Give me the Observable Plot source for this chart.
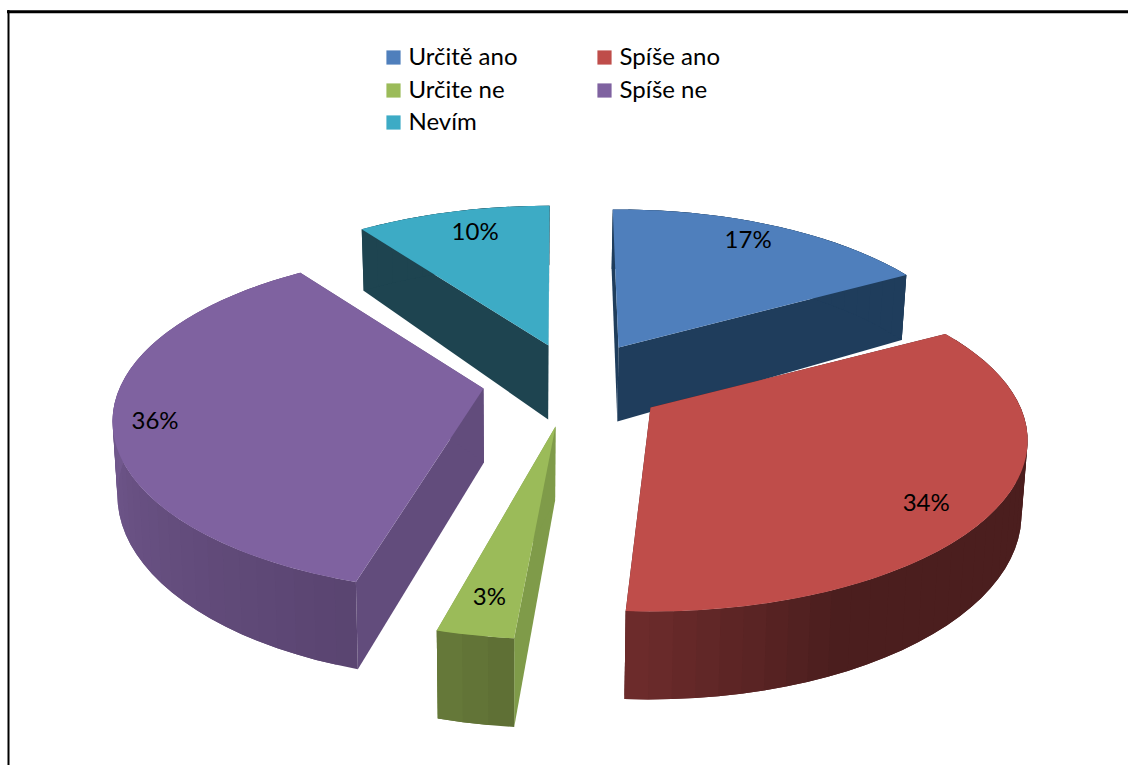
<!DOCTYPE html>
<html><head><meta charset="utf-8">
<script src="https://cdn.jsdelivr.net/npm/d3@7"></script>
<script src="https://cdn.jsdelivr.net/npm/@observablehq/plot@0.6"></script>
<style>html,body{margin:0;padding:0;background:#fff}svg{display:block;max-width:none!important}</style>
</head><body><div id="chart"></div>
<script>
// Data
const categories = ["Určitě ano", "Spíše ano", "Určite ne", "Spíše ne", "Nevím"];
const values = [17, 34, 3, 36, 10];
const labels = ["17%", "34%", "3%", "36%", "10%"];

// Styles
const topColors = ["#4f7fbc", "#bf4d4a", "#9bbb59", "#7f62a0", "#3dabc5"];
const radialColors = ["#1f3d5c", "#4a1c1c", "#7f9b49", "#624c7c", "#1e4450"];
const outerFrom = ["#1f3d5c", "#4b1e1e", "#5f7035", "#594470", "#1e4450"];
const outerTo = ["#1f3d5c", "#6e2c2c", "#687c3b", "#73598f", "#1e4450"];

// Explosion layout of the 3D pie: where each slice's point lands, its lateral radius,
// how far it reaches, and small rotation nudges of its two straight edges (degrees)
const tips = [[618, 347], [650, 407], [555, 426], [483, 388], [548, 345]];
const radii = [359, 370, 360, 364, 359];
const reach = [1, 1, 1.035, 1, 1.015];
const startNudge = [-1.1, -0.5, 1.5, 2.2, -0.4];
const endNudge = [0, -0.5, 0.5, 0.4, 0.2];
const labelAngleShift = [-1, 6.1, 0, -3, 1.6];
const labelRadius = [0.85, 0.85, 0.88, 0.89, 0.83];
const paintOrder = [4, 0, 3, 2, 1];
const persp = 5.18, flat = 164.6, depth = 71, tipDepth = 74, lean = 0.012, leanX = 520, bandDeg = 3;

const total = d3.sum(values);
const toAngle = v => v / total * 360;
let acc = 0;
const spans = values.map((v, i) => { const a = acc; acc += toAngle(v); return [a + startNudge[i], acc + endNudge[i]]; });

const project = (i, deg, r = reach[i]) => {
  const t = deg * Math.PI / 180, X = Math.sin(t) * r, Y = Math.cos(t) * r, s = persp / (persp + Y);
  return {x: tips[i][0] + X * radii[i] * s, y: tips[i][1] - Y * flat * s, s};
};
const below = p => ({x: p.x + (leanX - p.x) * lean, y: p.y + depth * p.s});
const tipOf = i => ({x: tips[i][0], y: tips[i][1], s: tipDepth / depth});

const faces = [];
let fid = 0;
const face = (pts, c) => {
  const id = fid++;
  [...pts, pts[0]].forEach(p => faces.push({id, x: p.x, y: p.y, c}));
};
for (const i of paintOrder) {
  const [a0, a1] = spans[i];
  const tip = tipOf(i), pa = project(i, a0), pb = project(i, a1);
  face([tip, pa, below(pa), below(tip)], radialColors[i]);
  face([tip, pb, below(pb), below(tip)], radialColors[i]);
  const n = Math.max(2, Math.round((a1 - a0) / bandDeg));
  const shade = d3.interpolateRgb(outerFrom[i], outerTo[i]);
  // Each band runs on past its end, so the next band paints over it with no seam
  for (let k = 0; k < n; k++) {
    const m = a0 + (a1 - a0) * (k + 0.5) / n;
    const u = i === 1 ? Math.max(0, (m - 155) / 28) : (i === 3 ? 1 - Math.min(1, (m - 196) / 75) : k / n);
    const edge = [];
    const next = Math.min(n, k + 2);
    for (let j = k; j <= next; j++) edge.push(project(i, a0 + (a1 - a0) * j / n));
    face([...edge, ...edge.map(below).reverse()], i === 3 ? shade(1 - u) : shade(u));
  }
  const topPts = [tip];
  const fine = Math.ceil(a1 - a0);
  for (let k = 0; k <= fine; k++) topPts.push(project(i, a0 + (a1 - a0) * k / fine));
  face(topPts, topColors[i]);
}

const labelRows = values.map((v, i) => {
  const p = project(i, (spans[i][0] + spans[i][1]) / 2 + labelAngleShift[i], labelRadius[i]);
  return {x: p.x, y: p.y, t: labels[i]};
});

// Legend: two columns, three rows
const legendCol = [393, 604], legendRow = [57, 90, 122], legendTextGap = 15;
const legendRows = categories.map((name, i) => ({
  name, c: topColors[i], x: legendCol[i % 2], y: legendRow[Math.floor(i / 2)]
}));

const font = "Lato, 'Open Sans', sans-serif";
const chart = Plot.plot({
  width: 1128, height: 765, margin: 0,
  style: {background: "#fff"},
  x: {domain: [0, 1128], range: [0, 1128], axis: null},
  y: {domain: [0, 765], range: [0, 765], axis: null},
  color: {type: "identity"},
  marks: [
    Plot.ruleY([11.3], {x1: 7, x2: 1128, stroke: "#000", strokeWidth: 3}),
    Plot.ruleX([8], {y1: 10, y2: 765, stroke: "#000", strokeWidth: 2}),
    Plot.line(faces, {x: "x", y: "y", z: "id", fill: "c", stroke: "none", curve: "linear"}),
    Plot.dot(legendRows, {x: "x", y: "y", fill: "c", symbol: "square", r: 8}),
    Plot.text(legendRows, {x: d => d.x + legendTextGap, y: "y", text: "name", textAnchor: "start", fontSize: 24, fontFamily: font, fill: "#000"}),
    Plot.text(labelRows, {x: "x", y: "y", text: "t", fontSize: 24, fontFamily: font, fill: "#000"})
  ]
});
document.getElementById("chart").append(chart);
</script></body></html>
